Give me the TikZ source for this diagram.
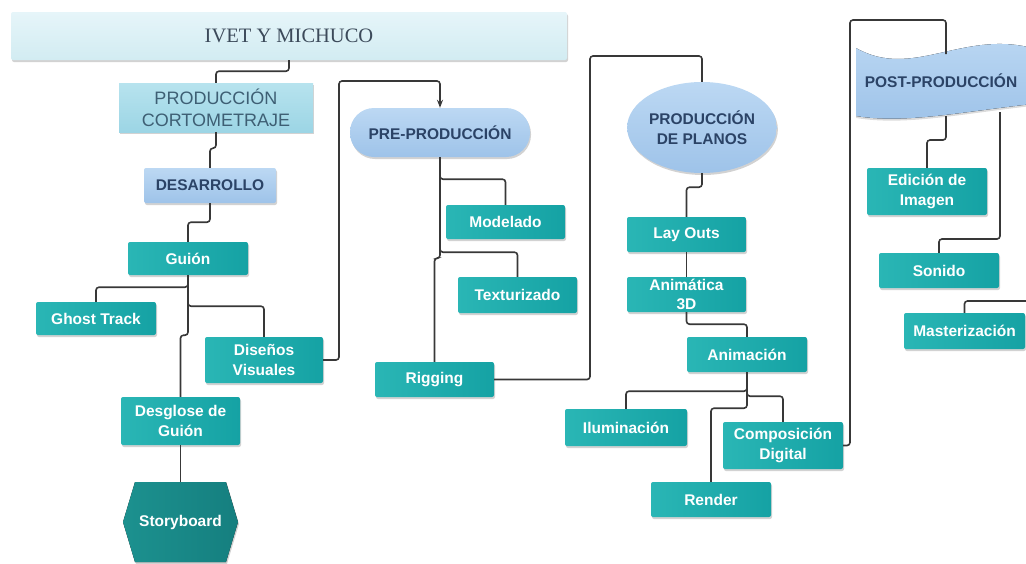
\documentclass[tikz,border=0pt]{standalone}
\usepackage{fontspec}
\setmainfont{Liberation Serif}
\setsansfont{Liberation Sans}
\usetikzlibrary{shadows,arrows.meta,shapes.geometric}
\definecolor{linegray}{HTML}{383838}
\definecolor{tealA}{HTML}{2AB6B5}
\definecolor{tealB}{HTML}{15A2A4}
\definecolor{stA}{HTML}{1C918F}
\definecolor{stB}{HTML}{157F7F}
\definecolor{navy}{HTML}{2B4366}
\definecolor{slate}{HTML}{3E5F74}
\definecolor{titletxt}{HTML}{3C4A5A}
\definecolor{lblueA}{HTML}{BCD8F3}
\definecolor{lblueB}{HTML}{9EC3E9}
\definecolor{cyanA}{HTML}{B7E3EE}
\definecolor{cyanB}{HTML}{9CD5E5}
\definecolor{titleA}{HTML}{E6F5F9}
\definecolor{titleB}{HTML}{D2ECF2}
\begin{document}
\begin{tikzpicture}[x=1pt,y=-1pt,
  shad/.style={drop shadow={shadow xshift=1pt,shadow yshift=-2pt,opacity=0.25,fill=black!70}},
  conn/.style={draw=linegray,line width=1.6pt,rounded corners=3pt},
  tealbox/.style={rectangle,rounded corners=2pt,left color=tealA,right color=tealB,shad,
    text=white,font=\sffamily\bfseries\fontsize{15.5}{19.5}\selectfont,align=center,inner sep=0pt},
  bluetext/.style={text=navy,font=\sffamily\bfseries\fontsize{15.5}{19.5}\selectfont,align=center,inner sep=0pt}]
\useasboundingbox (0,0) rectangle (1026,563);

% title
\node[rectangle,rounded corners=2pt,top color=titleA,bottom color=titleB,shad,
  minimum width=556,minimum height=48,inner sep=0pt,text=titletxt,
  font=\rmfamily\fontsize{20.5}{24}\selectfont] (title) at (289,36) {IVET Y MICHUCO};

% left column
\node[rectangle,top color=cyanA,bottom color=cyanB,shad,minimum width=194,minimum height=49,
  inner sep=0pt,align=center,text=slate,font=\sffamily\fontsize{18}{22}\selectfont]
  (prod) at (216,107.5) {PRODUCCIÓN\\CORTOMETRAJE};
\node[rectangle,rounded corners=2pt,top color=lblueA,bottom color=lblueB,shad,
  minimum width=132,minimum height=35,bluetext] (desa) at (210,185.5) {DESARROLLO};
\node[tealbox,minimum width=120,minimum height=33] (guion) at (188,258.5) {Guión};
\node[tealbox,minimum width=120,minimum height=33] (ghost) at (96,318.5) {Ghost Track};
\node[tealbox,minimum width=118,minimum height=46] (disenos) at (264,360) {Diseños\\Visuales};
\node[tealbox,minimum width=119,minimum height=48] (desglose) at (180.5,421) {Desglose de\\Guión};
\fill[left color=stA,right color=stB,shad] (135,482) -- (226,482) -- (238,522) -- (226,562)
  -- (135,562) -- (123,522) -- cycle;
\node[text=white,font=\sffamily\bfseries\fontsize{15.5}{19.5}\selectfont,inner sep=0pt,
  minimum width=104,minimum height=80] (story) at (180.5,522) {Storyboard};

% pre-production
\node[rectangle,rounded corners=24pt,top color=lblueA,bottom color=lblueB,shad,
  minimum width=180,minimum height=49,bluetext] (preprod) at (440,132.5) {PRE-PRODUCCIÓN};
\node[tealbox,minimum width=119,minimum height=34] (modelado) at (505.5,222) {Modelado};
\node[tealbox,minimum width=119,minimum height=36] (textur) at (517.5,295) {Texturizado};
\node[tealbox,minimum width=119,minimum height=35] (rigging) at (434.5,379.5) {Rigging};

% production
\node[ellipse,top color=lblueA,bottom color=lblueB,shad,minimum width=116,minimum height=91,
  bluetext] (planos) at (702,127.5) {PRODUCCIÓN\\DE PLANOS};
\node[tealbox,minimum width=119,minimum height=35] (layouts) at (686.5,234.5) {Lay Outs};
\node[tealbox,minimum width=119,minimum height=35] (animatica) at (686.5,294.5) {Animática\\[-1pt]3D};
\node[tealbox,minimum width=120,minimum height=35] (animacion) at (747,354.5) {Animación};
\node[tealbox,minimum width=122,minimum height=37] (ilum) at (626,427.5) {Iluminación};
\node[tealbox,minimum width=120,minimum height=47] (compos) at (783,445.5) {Composición\\Digital};
\node[tealbox,minimum width=120,minimum height=35] (render) at (711,499.5) {Render};

% post-production
\fill[top color=lblueA,bottom color=lblueB,drop shadow={shadow xshift=0pt,shadow yshift=-2pt,opacity=0.2,fill=black!70}]
  (856,48) .. controls (912,80) and (962,30) .. (1032,48)
  -- (1032,104) .. controls (960,112) and (905,124) .. (856,116) -- cycle;
\node[bluetext] (post) at (941,81) {POST-PRODUCCIÓN};
\node[tealbox,minimum width=120,minimum height=47] (edicion) at (927,191.5) {Edición de\\Imagen};
\node[tealbox,minimum width=120,minimum height=35] (sonido) at (939,270.5) {Sonido};
\node[tealbox,minimum width=121,minimum height=36] (master) at (964.5,331) {Masterización};

% free ends / bends
\coordinate (k1) at (339,81);
\coordinate (k2) at (590,56);
\coordinate (k3) at (850,20);
\coordinate (ptop) at (946,54);
\coordinate (pb1) at (946,116);
\coordinate (pb2) at (1000,112);
\coordinate (pr) at (1032,301);

% connectors
\draw[conn] (title.south) -- ++(0,11) -| (prod.north);
\draw[conn] (prod.south) -- ++(0,16) -| (desa.north);
\draw[conn] (desa.south) -- ++(0,19) -| (guion.north);
\draw[conn] (guion.south) -- ++(0,12) -| (ghost.north);
\draw[conn] (guion.south) -- ++(0,31) -| (disenos.north);
\draw[conn] (guion.south) -- ++(0,60) -| (desglose.north);
\draw[conn] (desglose.south) -- (desglose.south |- 0,482);
\draw[conn,-{Stealth[length=8pt,width=6pt]}] (disenos.east) -| (k1) -| (preprod.north);
\draw[conn] (preprod.south) -- ++(0,22) -| (modelado.north);
\draw[conn] (preprod.south) -- ++(0,95) -| (textur.north);
\draw[conn] (preprod.south) -- ++(0,101) -| (rigging.north);
\draw[conn] (rigging.east) -| (k2) -| (planos.north);
\draw[conn] (planos.south) -- ++(0,14) -| (layouts.north);
\draw[conn] (layouts) -- (animatica);
\draw[conn] (animatica.south) -- ++(0,12) -| (animacion.north);
\draw[conn] (animacion.south) -- ++(0,19) -| (ilum.north);
\draw[conn] (animacion.south) -- ++(0,24) -| (compos.north);
\draw[conn] (animacion.south) -- ++(0,36) -| (render.north);
\draw[conn] (compos.east) -| (k3) -| (ptop);
\draw[conn] (pb1) -- ++(0,24) -| (edicion.north);
\draw[conn] (pb2) -- ++(0,127) -| (sonido.north);
\draw[conn] (pr) -| (master.north);
\end{tikzpicture}
\end{document}
